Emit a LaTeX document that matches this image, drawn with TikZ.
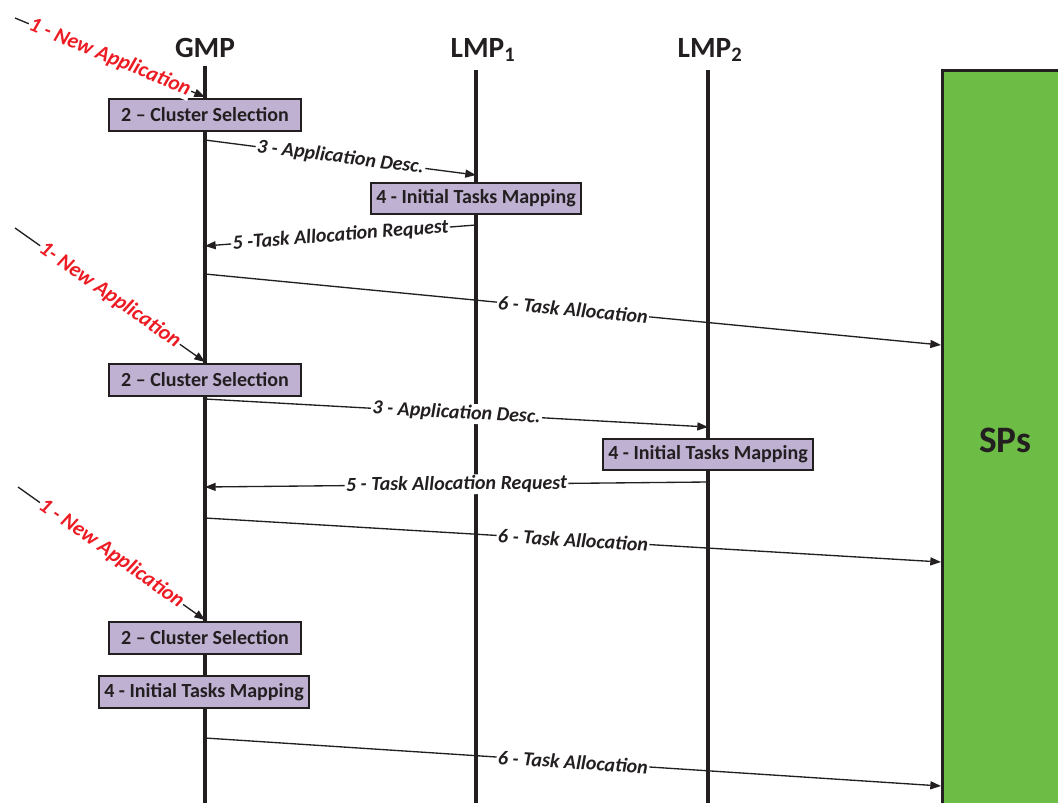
\documentclass[tikz,border=0pt]{standalone}
\usepackage{fontspec}
\setmainfont{Carlito}
\usetikzlibrary{arrows.meta}
\definecolor{ln}{RGB}{35,31,32}
\definecolor{pbox}{RGB}{191,177,210}
\definecolor{spg}{RGB}{108,188,69}
\definecolor{redtxt}{RGB}{237,28,36}
\tikzset{
  life/.style={draw=ln, line width=2.3pt},
  hdr/.style={font=\fontsize{22}{26}\selectfont\bfseries, text=ln},
  csbox/.style={draw=ln, fill=pbox, line width=1.3pt, minimum width=144pt, minimum height=24pt, inner sep=0pt, font=\fontsize{15}{18}\selectfont\bfseries, text=ln},
  itmbox/.style={csbox, minimum width=157.5pt, minimum height=23.5pt},
  msg/.style={draw=ln, line width=1pt, -{Triangle[length=8pt,width=6pt]}},
  lbl/.style={fill=white, sloped, font=\fontsize{15}{18}\selectfont\bfseries\itshape, text=ln, inner sep=1pt},
  newapp/.style={lbl, text=redtxt, font=\fontsize{16}{19}\selectfont\bfseries\itshape}
}
\begin{document}
\begin{tikzpicture}[x=0.75pt,y=-0.75pt]
\useasboundingbox (0,0) rectangle (1058,803);
\clip (0,0) rectangle (1058,803);
% SPs block
\node[draw=ln, fill=spg, line width=2.2pt, minimum width=97.5pt, minimum height=562.5pt, anchor=north west, inner sep=0pt] (sp) at (941,69) {};
\node[font=\fontsize{28}{32}\selectfont\bfseries, text=ln] (spt) at (1005,440) {SPs};
% headers
\node[hdr] (gmp) at (205,48) {GMP};
\node[hdr] (lmp1) at (483,50) {LMP\textsubscript{1}};
\node[hdr] (lmp2) at (710,50) {LMP\textsubscript{2}};
% lifelines
\coordinate (gt) at (205,66); \coordinate (gb) at (205,805);
\coordinate (l1t) at (476,70); \coordinate (l1b) at (476,805);
\coordinate (l2t) at (708,70); \coordinate (l2b) at (708,805);
\draw[life] (gt) -- (gb);
\draw[life] (l1t) -- (l1b);
\draw[life] (l2t) -- (l2b);
% boxes
\node[csbox] (cs1) at (205,115) {2 -- Cluster Selection};
\node[itmbox] (itm1) at (476,198.5) {4 - Initial Tasks Mapping};
\node[csbox] (cs2) at (205,380) {2 -- Cluster Selection};
\node[itmbox] (itm2) at (708,454.5) {4 - Initial Tasks Mapping};
\node[csbox] (cs3) at (205,638) {2 -- Cluster Selection};
\node[itmbox] (itm3) at (204,692) {4 - Initial Tasks Mapping};
% coordinates for messages
\coordinate (a1s) at (15,18);  \coordinate (a1e) at (205,97);
\coordinate (a2s) at (15,228); \coordinate (a2e) at (205,362);
\coordinate (a3s) at (18,487); \coordinate (a3e) at (205,620);
\coordinate (m3as) at (205,140); \coordinate (m3ae) at (476,175);
\coordinate (m5as) at (476,225); \coordinate (m5ae) at (205,246);
\coordinate (m6as) at (205,274); \coordinate (m6ae) at (941,345);
\coordinate (m3bs) at (205,399); \coordinate (m3be) at (708,427);
\coordinate (m5bs) at (708,482); \coordinate (m5be) at (205,487);
\coordinate (m6bs) at (205,518); \coordinate (m6be) at (941,562);
\coordinate (m6cs) at (205,738); \coordinate (m6ce) at (941,786);
% new application arrows
\draw[msg] (a1s) -- node[newapp] {1 - New Application} (a1e);
\draw[msg] (a2s) -- node[newapp] {1- New Application} (a2e);
\draw[msg] (a3s) -- node[newapp] {1 - New Application} (a3e);
% messages
\draw[msg] (m3as) -- node[lbl] {3 - Application Desc.} (m3ae);
\draw[msg] (m5as) -- node[lbl] {5 -Task Allocation Request} (m5ae);
\draw[msg] (m6as) -- node[lbl] {6 - Task Allocation} (m6ae);
\draw[msg] (m3bs) -- node[lbl] {3 - Application Desc.} (m3be);
\draw[msg] (m5bs) -- node[lbl] {5 - Task Allocation Request} (m5be);
\draw[msg] (m6bs) -- node[lbl] {6 - Task Allocation} (m6be);
\draw[msg] (m6cs) -- node[lbl] {6 - Task Allocation} (m6ce);
\end{tikzpicture}
\end{document}
